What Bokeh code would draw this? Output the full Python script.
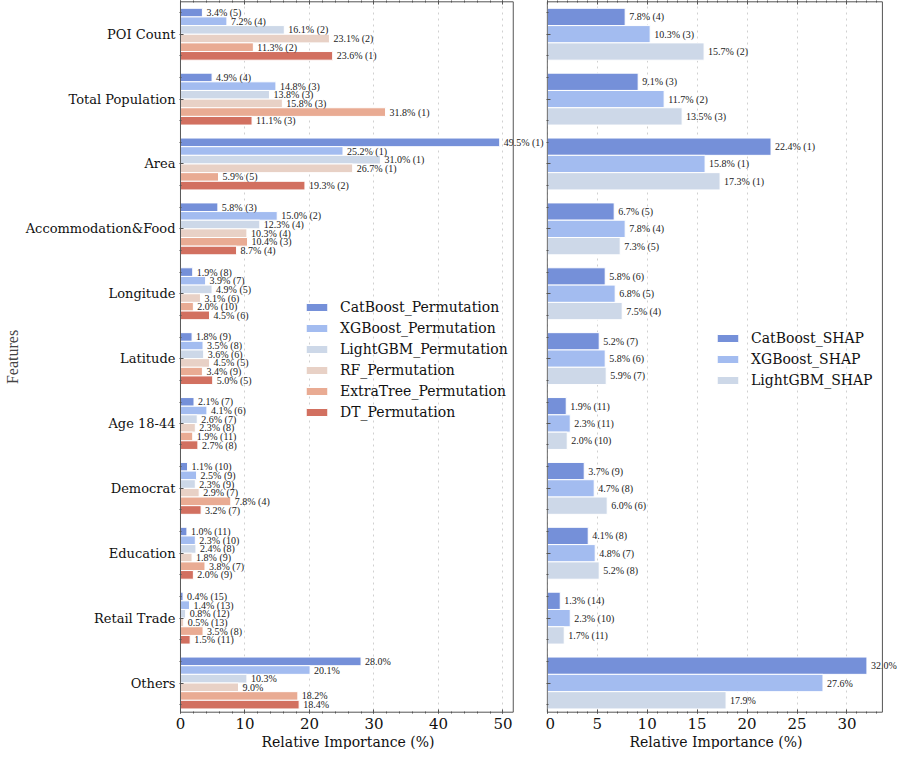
from bokeh.plotting import figure
from bokeh.layouts import row
from bokeh.models import (Range1d, FixedTicker, LinearAxis, CustomJSTickFormatter,
                          LabelSet, ColumnDataSource, BoxAnnotation, Title)
from bokeh.embed import file_html
from bokeh.resources import INLINE

features = ["POI Count", "Total Population", "Area", "Accommodation&Food", "Longitude",
            "Latitude", "Age 18-44", "Democrat", "Education", "Retail Trade", "Others"]

perm_models = ["CatBoost_Permutation", "XGBoost_Permutation", "LightGBM_Permutation",
               "RF_Permutation", "ExtraTree_Permutation", "DT_Permutation"]
cat_perm = [3.4, 4.9, 49.5, 5.8, 1.9, 1.8, 2.1, 1.1, 1.0, 0.4, 28.0]
cat_perm_rank = [5, 4, 1, 3, 8, 9, 7, 10, 11, 15, None]
xgb_perm = [7.2, 14.8, 25.2, 15.0, 3.9, 3.5, 4.1, 2.5, 2.3, 1.4, 20.1]
xgb_perm_rank = [4, 3, 1, 2, 7, 8, 6, 9, 10, 13, None]
lgb_perm = [16.1, 13.8, 31.0, 12.3, 4.9, 3.6, 2.6, 2.3, 2.4, 0.8, 10.3]
lgb_perm_rank = [2, 3, 1, 4, 5, 6, 7, 9, 8, 12, None]
rf_perm = [23.1, 15.8, 26.7, 10.3, 3.1, 4.5, 2.3, 2.9, 1.8, 0.5, 9.0]
rf_perm_rank = [2, 3, 1, 4, 6, 5, 8, 7, 9, 13, None]
et_perm = [11.3, 31.8, 5.9, 10.4, 2.0, 3.4, 1.9, 7.8, 3.8, 3.5, 18.2]
et_perm_rank = [2, 1, 5, 3, 10, 9, 11, 4, 7, 8, None]
dt_perm = [23.6, 11.1, 19.3, 8.7, 4.5, 5.0, 2.7, 3.2, 2.0, 1.5, 18.4]
dt_perm_rank = [1, 3, 2, 4, 6, 5, 8, 7, 9, 11, None]

shap_models = ["CatBoost_SHAP", "XGBoost_SHAP", "LightGBM_SHAP"]
cat_shap = [7.8, 9.1, 22.4, 6.7, 5.8, 5.2, 1.9, 3.7, 4.1, 1.3, 32.0]
cat_shap_rank = [4, 3, 1, 5, 6, 7, 11, 9, 8, 14, None]
xgb_shap = [10.3, 11.7, 15.8, 7.8, 6.8, 5.8, 2.3, 4.7, 4.8, 2.3, 27.6]
xgb_shap_rank = [3, 2, 1, 4, 5, 6, 11, 8, 7, 10, None]
lgb_shap = [15.7, 13.5, 17.3, 7.3, 7.5, 5.9, 2.0, 6.0, 5.2, 1.7, 17.9]
lgb_shap_rank = [2, 3, 1, 5, 4, 7, 10, 6, 8, 11, None]

perm_colors = ["#7590d9", "#a3bcf0", "#cdd8e8", "#e8d1c6", "#e9ab93", "#d27060"]
shap_colors = ["#7590d9", "#a3bcf0", "#cdd8e8"]

perm_series = [(cat_perm, cat_perm_rank), (xgb_perm, xgb_perm_rank), (lgb_perm, lgb_perm_rank),
               (rf_perm, rf_perm_rank), (et_perm, et_perm_rank), (dt_perm, dt_perm_rank)]
shap_series = [(cat_shap, cat_shap_rank), (xgb_shap, xgb_shap_rank), (lgb_shap, lgb_shap_rank)]

SERIF = "DejaVu Serif"
FIG_H = 749
AX_COL = "#555555"
Y_TOP, Y_BOTTOM = -0.5, 10.45
PAD = 0.02


def label_of(v, r):
    return f"{v:.1f}%" if r is None else f"{v:.1f}% ({r})"


def style_ticks(ax):
    ax.major_tick_out = 0
    ax.major_tick_in = 4
    ax.minor_tick_out = 0
    ax.minor_tick_in = 2
    ax.major_tick_line_color = AX_COL
    ax.minor_tick_line_color = AX_COL


def make_panel(series, names, colors, xlim, xview, xstep, width, bl, show_ylabels, title_offset):
    # xlim: the drawn panel limit (box); xview: the canvas range so that labels can overflow
    p = figure(width=width, height=FIG_H, output_backend="svg", toolbar_location=None,
               x_range=Range1d(-0.15 * xstep / 10, xview),
               y_range=Range1d(Y_BOTTOM + PAD, Y_TOP - PAD),
               min_border_left=bl, min_border_right=0, min_border_top=0, min_border_bottom=36)
    xaxis = p.below[0]
    yaxis = p.left[0]
    n = len(series)
    h = 0.8 / n
    for k, ((vals, ranks), name, col) in enumerate(zip(series, names, colors)):
        ys = [i - 0.4 + (k + 0.5) * h for i in range(len(features))]
        src = ColumnDataSource(dict(y=ys, v=vals,
                                    lab=[label_of(v, r) for v, r in zip(vals, ranks)]))
        p.hbar(y="y", right="v", left=0, height=h, source=src, fill_color=col,
               line_color="white", line_width=1, legend_label=name)
        p.add_layout(LabelSet(x="v", y="y", text="lab", source=src, x_offset=4,
                              text_baseline="middle", text_align="left", text_font=SERIF,
                              text_font_size="10px", text_color="#222222"))
    majors = [t for t in range(0, int(xlim) + 1, xstep)]
    minor_step = xstep / 5
    minors = [m * minor_step for m in range(int(xlim / minor_step) + 1)]
    xt = FixedTicker(ticks=majors, minor_ticks=minors)
    yt = FixedTicker(ticks=list(range(len(features))),
                     minor_ticks=[i + d for i in range(len(features)) for d in (-0.33, 0.33)])
    xaxis.ticker = xt
    yaxis.ticker = yt
    xaxis.major_label_text_font = SERIF
    xaxis.major_label_text_font_size = "15px"
    xaxis.major_label_standoff = 4
    xaxis.axis_line_color = None
    for ax in (xaxis, yaxis):
        style_ticks(ax)
        ax.major_label_text_color = "#111111"
    yaxis.axis_line_color = None
    p.add_layout(Title(text="Relative Importance (%)", align="left", offset=title_offset,
                       text_font=SERIF, text_font_style="normal", text_font_size="14px",
                       text_color="#111111", standoff=0), "below")
    if show_ylabels:
        yaxis.major_label_overrides = {i: f for i, f in enumerate(features)}
        yaxis.major_label_text_font = SERIF
        yaxis.major_label_text_font_size = "13px"
        yaxis.major_label_standoff = 4
        yaxis.axis_label = "Features"
        yaxis.axis_label_text_font = "Liberation Serif"
        yaxis.axis_label_text_font_style = "normal"
        yaxis.axis_label_text_font_size = "16px"
        yaxis.axis_label_standoff = 2
    else:
        yaxis.formatter = CustomJSTickFormatter(code="return ''")
        yaxis.major_label_standoff = 0
    # tick marks along the top edge of the panel
    top = LinearAxis(ticker=xt, formatter=CustomJSTickFormatter(code="return ''"))
    top.major_label_standoff = 0
    top.axis_line_color = None
    style_ticks(top)
    p.add_layout(top, "above")
    # the panel border (ends at xlim; value labels may run past it as in the original)
    p.add_layout(BoxAnnotation(left=0, right=xlim, bottom=Y_BOTTOM, top=Y_TOP,
                               fill_alpha=0, line_alpha=1, line_color=AX_COL, line_width=1))
    p.ygrid.grid_line_color = None
    p.xgrid.grid_line_color = "#d0d0d0"
    p.xgrid.grid_line_dash = "dotted"
    p.xgrid.grid_line_width = 1
    p.outline_line_color = None
    lg = p.legend[0]
    lg.border_line_alpha = 0
    lg.background_fill_alpha = 0
    lg.padding = 0
    lg.margin = 0
    lg.spacing = 4
    lg.label_height = 17
    lg.glyph_height = 10
    lg.glyph_width = 27
    lg.label_standoff = 10
    lg.label_text_font = SERIF
    lg.label_text_font_size = "14px"
    lg.label_text_color = "#111111"
    return p


p1 = make_panel(perm_series, perm_models, perm_colors, 51.6, 56.6, 10, 545, 170, True, 82)
p1.legend[0].location = (124, 293)
p2 = make_panel(shap_series, shap_models, shap_colors, 33.55, 35.06, 5, 352, 1, False, 83)
p2.legend[0].location = (168, 325)

layout = row(p1, p2)
open("out.html", "w").write(file_html(layout, INLINE))
